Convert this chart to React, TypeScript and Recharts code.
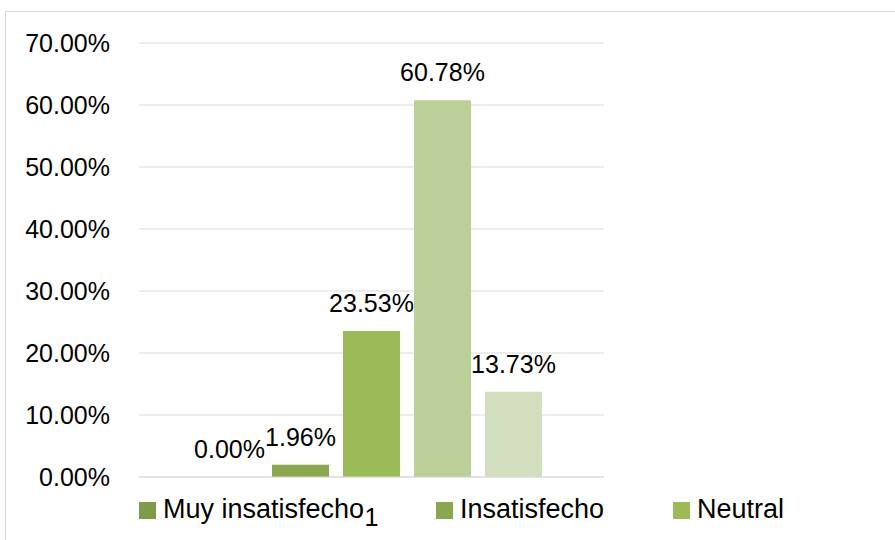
import React from "react";
import { BarChart, Bar, XAxis, YAxis, CartesianGrid, LabelList } from "recharts";

const categories = ["1"];
const seriesNames = ["Muy insatisfecho", "Insatisfecho", "Neutral", "Satisfecho", "Muy satisfecho"];
const seriesValues = [0.0, 0.0196, 0.2353, 0.6078, 0.1373];
const yTicks = [0, 0.1, 0.2, 0.3, 0.4, 0.5, 0.6, 0.7];
const visibleLegendItems = 3;

const COLORS = ["#7F9A48", "#8AA64F", "#9BBB59", "#BBCF98", "#D2DEBD"];
const FONT = "'Liberation Sans', Arial, sans-serif";

const data = categories.map((c) => {
  const row: Record<string, string | number> = { cat: c };
  seriesNames.forEach((n, i) => {
    row["s" + i] = seriesValues[i];
  });
  return row;
});

const pct = (v: any) => (Number(v) * 100).toFixed(2) + "%";

const legendOffsets = [139, 436, 673];

export default function App() {
  return (
    <div style={{ position: "fixed", left: 0, top: 0, width: 895, height: 540, overflow: "hidden", background: "#fff", fontFamily: FONT }}>
      <div style={{ position: "absolute", left: 5, top: 11, width: 1000, height: 1000, border: "1px solid #D9D9D9", boxSizing: "border-box" }} />
      <div style={{ position: "absolute", left: 0, top: 0 }}>
        <BarChart
          width={895}
          height={540}
          data={data}
          margin={{ top: 43, right: 291, bottom: 0, left: 0 }}
          barSize={57}
          barGap={14}
        >
          <CartesianGrid vertical={false} stroke="#D9D9D9" strokeWidth={1} />
          <XAxis
            dataKey="cat"
            axisLine={{ stroke: "#D9D9D9" }}
            tickLine={false}
            tickSize={0}
            tickMargin={31}
            height={63}
            tick={{ fill: "#000", fontSize: 25, fontFamily: FONT }}
          />
          <YAxis
            domain={[0, 0.7]}
            ticks={yTicks}
            tickFormatter={pct}
            axisLine={false}
            tickLine={false}
            tickSize={0}
            tickMargin={29}
            width={139}
            tick={{ fill: "#000", fontSize: 25, fontFamily: FONT }}
          />
          {seriesNames.map((n, i) => (
            <Bar key={n} dataKey={"s" + i} name={n} fill={COLORS[i]} minPointSize={0.01} isAnimationActive={false}>
              <LabelList
                dataKey={"s" + i}
                position="top"
                offset={19}
                formatter={pct}
                style={{ fill: "#000", fontSize: 25, fontFamily: FONT }}
              />
            </Bar>
          ))}
        </BarChart>
      </div>
      {seriesNames.slice(0, visibleLegendItems).map((n, i) => (
        <div
          key={n}
          style={{ position: "absolute", left: legendOffsets[i], top: 494, height: 30, display: "flex", alignItems: "center", whiteSpace: "nowrap" }}
        >
          <div style={{ width: 17, height: 17, background: COLORS[i], marginRight: 7, marginTop: 2 }} />
          <span style={{ fontSize: 27, color: "#000", fontFamily: FONT }}>{n}</span>
        </div>
      ))}
    </div>
  );
}
